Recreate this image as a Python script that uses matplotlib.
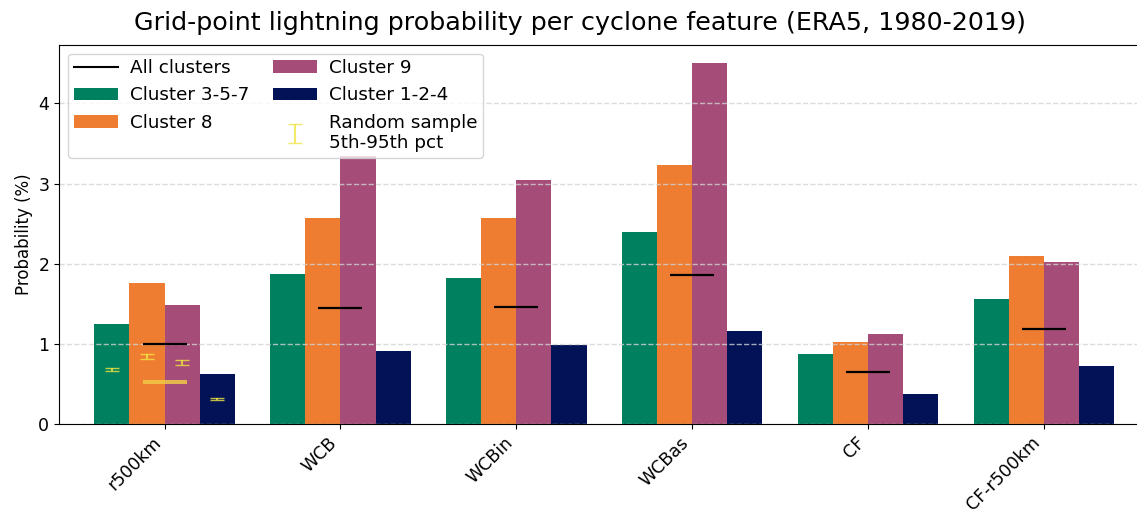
import numpy as np
import matplotlib
matplotlib.use("Agg")
import matplotlib.pyplot as plt
from matplotlib.lines import Line2D

# Cyclone features and per-cluster lightning probabilities (%)
features = ["r500km", "WCB", "WCBin", "WCBas", "CF", "CF-r500km"]
cluster_357 = [1.25, 1.87, 1.82, 2.40, 0.87, 1.56]
cluster_8 = [1.76, 2.57, 2.57, 3.23, 1.02, 2.10]
cluster_9 = [1.49, 3.35, 3.05, 4.51, 1.12, 2.02]
cluster_124 = [0.63, 0.91, 0.98, 1.16, 0.37, 0.725]
all_clusters = [1.00, 1.45, 1.46, 1.86, 0.65, 1.18]

# Random sample 5th/95th percentiles (r500km only)
rand_p5 = [0.66, 0.81, 0.74, 0.30]
rand_p95 = [0.70, 0.875, 0.80, 0.32]
rand_all_p5 = 0.505
rand_all_p95 = 0.545

labels = ["Cluster 3-5-7", "Cluster 8", "Cluster 9", "Cluster 1-2-4"]
colors = ["#00805f", "#ee7d32", "#a54d78", "#021256"]
series = [cluster_357, cluster_8, cluster_9, cluster_124]

fig = plt.figure(figsize=(11.37, 5.14), dpi=100)
ax = fig.add_axes([0.0519, 0.1751, 0.959, 0.7383])

x = np.arange(len(features))
width = 0.2
offsets = [-1.5, -0.5, 0.5, 1.5]

bars = []
for vals, lab, col, off in zip(series, labels, colors, offsets):
    bars.append(ax.bar(x + off * width, vals, width, color=col, label=lab))

# all-cluster mean as short black line over each group
ax.hlines(all_clusters, x - 0.125, x + 0.125, color="black", lw=1.6, zorder=3)

# random sample ranges for the first feature
yel = "#f0e442"
ebars = []
for i, off in enumerate(offsets):
    mid = (rand_p5[i] + rand_p95[i]) / 2
    ebars.append(ax.errorbar(x[0] + off * width, mid,
                             yerr=[[mid - rand_p5[i]], [rand_p95[i] - mid]],
                             fmt="none", ecolor=yel, alpha=0.8, capsize=5, lw=1.5, zorder=4))
ax.bar(x[0], rand_all_p95 - rand_all_p5, 0.25, bottom=rand_all_p5,
       color="#f0c848", alpha=0.85, zorder=4)

ax.set_xticks(x)
ax.set_xticklabels(features, rotation=45, ha="right", fontsize=12.5)
ax.tick_params(axis="y", labelsize=12.5)
ax.set_xlim(-0.6, 5.6)
ax.set_ylim(0, max(cluster_9) * 1.05)
ax.set_ylabel("Probability (%)", fontsize=12)
ax.yaxis.grid(True, linestyle="--", color="lightgray", alpha=0.8, lw=1.0)

fig.text(0.5097, 0.955, "Grid-point lightning probability per cyclone feature (ERA5, 1980-2019)",
         ha="center", va="center", fontsize=18.3)

h_all = Line2D([], [], color="black", lw=1.5)
handles = [h_all, bars[0], bars[1], bars[2], bars[3], ebars[0]]
names = ["All clusters"] + labels + ["Random sample\n5th-95th pct"]
ax.legend(handles, names, ncol=2, loc="upper left", fontsize=13.2,
          borderaxespad=0.5, borderpad=0.3, columnspacing=1.3,
          handlelength=2.4, handletextpad=0.65)

fig.savefig("out.png", dpi=100)
